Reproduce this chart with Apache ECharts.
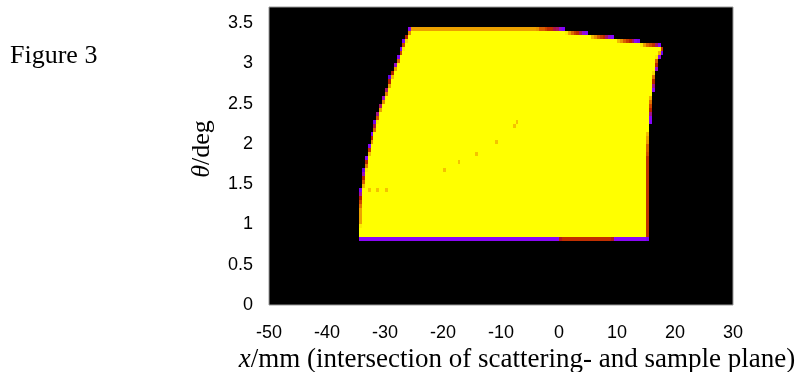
<!DOCTYPE html>
<html>
<head>
<meta charset="utf-8">
<script src="https://cdn.jsdelivr.net/npm/echarts@6/dist/echarts.min.js"></script>
<style>
html,body{margin:0;padding:0;background:#fff;}
#chart{width:800px;height:372px;}
</style>
</head>
<body>
<div id="chart"></div>
<script>
// ---- data ----
const xTicks = [-50, -40, -30, -20, -10, 0, 10, 20, 30];
const yTicks = [0, 0.5, 1, 1.5, 2, 2.5, 3, 3.5];
const xRange = [-50, 30];
const yRange = [0, 3.7];
const xBin = 0.5;   // mm per histogram column
const yBin = 0.05;  // deg per histogram row

// outline of the illuminated (accepted) region, clockwise from bottom-left
const outlineX = [-34.5, -34.4, -34.1, -33.5, -32.9, -32.3, -31.7, -31.1, -30.0, -28.9, -27.7, -26.6, -25.5,
                  -4.0, 0.0, 3.0, 8.0, 12.0, 17.0, 17.9,
                  16.9, 16.2, 15.6, 15.3, 15.25, 15.25,
                  9.3, 9.3, 0.2, 0.2];
const outlineY = [0.84, 1.2, 1.4, 1.68, 1.89, 2.05, 2.22, 2.39, 2.6, 2.84, 3.05, 3.26, 3.44,
                  3.44, 3.415, 3.375, 3.32, 3.275, 3.215, 3.185,
                  3.05, 2.76, 2.34, 1.9, 1.68, 0.84,
                  0.84, 0.825, 0.825, 0.84];

// faint slightly lower-intensity cells inside the region
const dipX = [-19.7, -17.1, -14.2, -11.0, -7.9, -7.3, -32.8, -31.2, -29.8];
const dipY = [1.67, 1.78, 1.86, 2.0, 2.23, 2.3, 1.42, 1.42, 1.42];
const dipLevel = 0.9;

// ---- build histogram cells from the outline ----
function inside(px, py) {
  let c = false;
  const n = outlineX.length;
  for (let i = 0, j = n - 1; i < n; j = i++) {
    const xi = outlineX[i], yi = outlineY[i], xj = outlineX[j], yj = outlineY[j];
    if (((yi > py) !== (yj > py)) && (px < (xj - xi) * (py - yi) / (yj - yi) + xi)) c = !c;
  }
  return c;
}
const nCols = Math.round((xRange[1] - xRange[0]) / xBin);
const nRows = Math.round((yRange[1] - yRange[0]) / yBin);
const S = 6;
const level = {};
for (let i = 0; i < nCols; i++) {
  const x0 = xRange[0] + i * xBin;
  for (let j = 0; j < nRows; j++) {
    const y0 = yRange[0] + j * yBin;
    let n = 0;
    for (let a = 0; a < S; a++) for (let b = 0; b < S; b++) {
      if (inside(x0 + (a + 0.5) / S * xBin, y0 + (b + 0.5) / S * yBin)) n++;
    }
    if (n > 0) level[i + ',' + j] = n / (S * S);
  }
}
for (let k = 0; k < dipX.length; k++) {
  const i = Math.floor((dipX[k] - xRange[0]) / xBin);
  const j = Math.floor((dipY[k] - yRange[0]) / yBin);
  if (level[i + ',' + j] !== undefined) level[i + ',' + j] = Math.min(level[i + ',' + j], dipLevel);
}
const cells = Object.keys(level).map(function (k) {
  const p = k.split(',');
  const i = +p[0], j = +p[1];
  return [xRange[0] + i * xBin, +(yRange[0] + j * yBin).toFixed(3), level[k]];
});

// gnuplot-like palette (black - purple - red - orange - yellow)
function palette(v) {
  const t = 0.15 + 0.85 * v;
  const r = Math.sqrt(t), g = t * t * t, b = Math.max(0, Math.min(1, Math.sin(2 * Math.PI * t)));
  return 'rgb(' + Math.round(255 * r) + ',' + Math.round(255 * g) + ',' + Math.round(255 * b) + ')';
}

const chart = echarts.init(document.getElementById('chart'), null, {renderer: 'canvas'});
const serif = 'Liberation Serif';
chart.setOption({
  animation: false,
  backgroundColor: '#fff',
  grid: {left: 269, right: 67, top: 7, bottom: 67, outerBoundsMode: 'none', containLabel: false,
         show: true, backgroundColor: '#000', borderColor: '#9a9a9a', borderWidth: 1},
  xAxis: {
    type: 'value', min: xRange[0], max: xRange[1], interval: 10,
    axisLine: {show: false}, axisTick: {show: false}, splitLine: {show: false},
    axisLabel: {color: '#000', fontFamily: 'Liberation Sans', fontSize: 18, margin: 19},
    name: '{i|x}/mm (intersection of scattering- and sample plane)',
    nameLocation: 'middle', nameGap: 36,
    nameTextStyle: {color: '#000', fontFamily: serif, fontSize: 27, padding: [0, 0, 0, 32],
      rich: {i: {fontFamily: serif, fontStyle: 'italic', fontSize: 27, color: '#000'}}}
  },
  yAxis: {
    type: 'value', min: yRange[0], max: yRange[1], interval: 0.5,
    axisLine: {show: false}, axisTick: {show: false}, splitLine: {show: false},
    axisLabel: {color: '#000', fontFamily: 'Liberation Sans', fontSize: 18, margin: 16, showMaxLabel: false},
    name: '{i|θ}/deg',
    nameLocation: 'middle', nameGap: 54,
    nameTextStyle: {color: '#000', fontFamily: serif, fontSize: 26, padding: [0, 0, 0, 14],
      rich: {i: {fontFamily: serif, fontStyle: 'italic', fontSize: 26, color: '#000'}}}
  },
  graphic: [{
    type: 'text', left: 10, top: 43,
    style: {text: 'Figure 3', fill: '#000', font: '26px "Liberation Serif"'}
  }],
  series: [{
    type: 'custom',
    coordinateSystem: 'cartesian2d',
    clip: true,
    silent: true,
    progressive: 0,
    encode: {x: 0, y: 1},
    data: cells,
    renderItem: function (params, api) {
      const x0 = api.value(0), y0 = api.value(1), v = api.value(2);
      const p0 = api.coord([x0, y0 + yBin]);
      const p1 = api.coord([x0 + xBin, y0]);
      const L = Math.round(p0[0]), T = Math.round(p0[1]);
      const R = Math.round(p1[0]), B = Math.round(p1[1]);
      return {
        type: 'rect',
        shape: {x: L, y: T, width: R - L, height: B - T},
        style: {fill: palette(v)}
      };
    }
  }]
});
</script>
</body>
</html>
